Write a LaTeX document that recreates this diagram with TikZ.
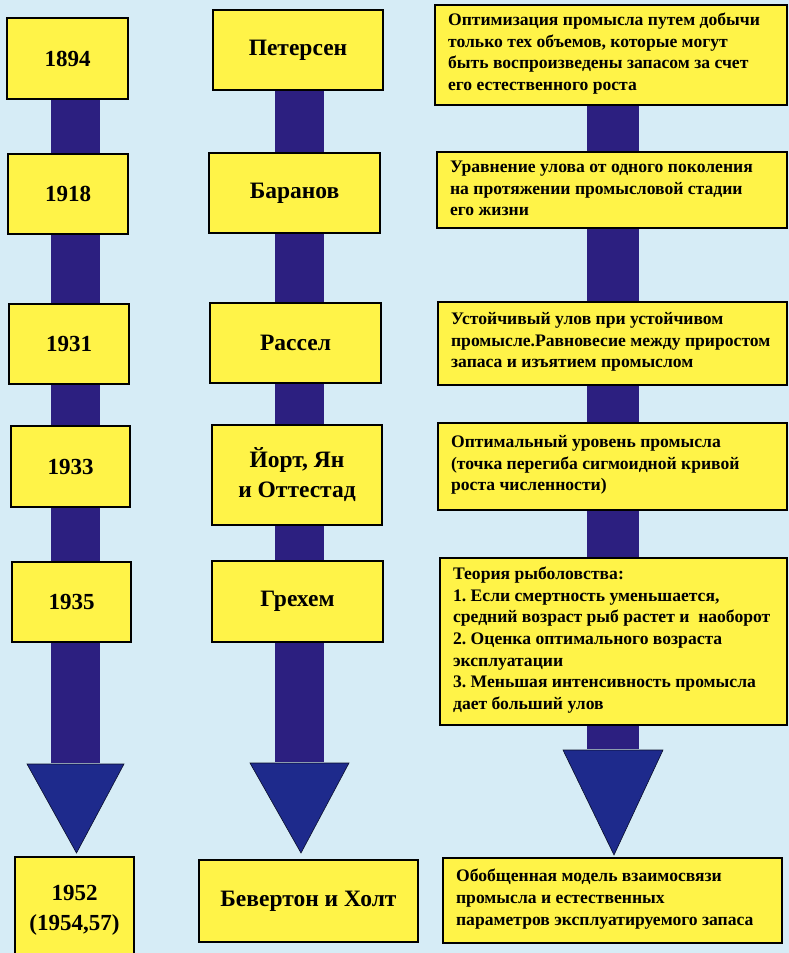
\documentclass[tikz,border=0pt]{standalone}
\usepackage{fontspec}
\setmainfont{Liberation Serif}
\usetikzlibrary{backgrounds,calc}
\definecolor{bgblue}{RGB}{214,236,246}
\definecolor{boxyellow}{RGB}{255,243,72}
\definecolor{shaftblue}{RGB}{44,31,128}
\definecolor{headblue}{RGB}{30,42,140}
\frenchspacing
\tikzset{
  ybox/.style={draw=black, line width=2.2pt, fill=boxyellow, inner sep=0pt, align=center},
  bigtxt/.style={font=\fontsize{23}{32}\selectfont\bfseries},
  nametxt/.style={font=\fontsize{23.5}{30}\selectfont\bfseries},
  smalltxt/.style={font=\fontsize{17.6}{21.7}\selectfont\bfseries, align=left, inner sep=0pt, anchor=west},
  shaft/.style={draw=shaftblue, line width=49pt, line cap=butt},
  headtri/.style={fill=headblue, draw=black!70!headblue, line width=0.6pt}
}
% \mybox{name}{x1}{y1}{x2}{y2}{style}{text}
\newcommand{\mybox}[7]{%
  \node[ybox, #6, minimum width={(#4-#2)*1pt}, minimum height={(#5-#3)*1pt}]
    (#1) at ({(#2+#4)/2},{(#3+#5)/2}) {#7};}
% \mywidebox{name}{x1}{y1}{x2}{y2}{text}
\newcommand{\mywidebox}[6]{%
  \node[ybox, minimum width={(#4-#2)*1pt}, minimum height={(#5-#3)*1pt}]
    (#1) at ({(#2+#4)/2},{(#3+#5)/2}) {};
  \node[smalltxt] (#1t) at ([xshift=14pt,yshift=1.5pt]#1.west) {#6};}
\begin{document}
\begin{tikzpicture}[x=1pt,y=-1pt]
\useasboundingbox (0,0) rectangle (789,953);
\clip (0,0) rectangle (789,953);
% column 1
\mybox{a1}{7}{18}{128}{99}{bigtxt}{1894}
\mybox{a2}{8}{154}{128}{234}{bigtxt}{1918}
\mybox{a3}{9}{304}{129}{384}{bigtxt}{1931}
\mybox{a4}{11}{426}{130}{507}{bigtxt}{1933}
\mybox{a5}{12}{562}{131}{642}{bigtxt}{1935}
\mybox{a6}{15}{857}{134}{962}{bigtxt}{\raisebox{6pt}{\begin{tabular}{@{}c@{}}1952\\[-2pt](1954,57)\end{tabular}}}
% column 2
\mybox{b1}{213}{10}{383}{90}{nametxt}{Петерсен}
\mybox{b2}{209}{153}{380}{233}{nametxt}{Баранов}
\mybox{b3}{210}{303}{381}{383}{nametxt}{Рассел}
\mybox{b4}{212}{425}{382}{525}{nametxt}{Йорт, Ян\\и Оттестад}
\mybox{b5}{212}{561}{383}{642}{nametxt}{Грехем}
\mybox{b6}{199}{860}{418}{942}{nametxt}{Бевертон и Холт}
% column 3
\mywidebox{c1}{435}{5}{787}{105}{Оптимизация промысла путем добычи\\только тех объемов, которые могут\\быть воспроизведены запасом за счет\\его естественного роста}
\mywidebox{c2}{437}{152}{787}{228}{Уравнение улова от одного поколения\\на протяжении промысловой стадии\\его жизни}
\mywidebox{c3}{438}{302}{787}{385}{Устойчивый улов при устойчивом\\промысле.Равновесие между приростом\\запаса и изъятием промыслом}
\mywidebox{c4}{438}{423}{787}{510}{Оптимальный уровень промысла\\(точка перегиба сигмоидной кривой\\роста численности)}
\mywidebox{c5}{440}{558}{787}{725}{Теория рыболовства:\\1. Если смертность уменьшается,\\средний возраст рыб растет и\ \ наоборот\\2. Оценка оптимального возраста\\эксплуатации\\3. Меньшая интенсивность промысла\\дает больший улов}
\mywidebox{c6}{443}{858}{782}{943}{Обобщенная модель взаимосвязи\\промысла и естественных\\параметров эксплуатируемого запаса}
% axes and arrow heads
\coordinate (ax1) at (75.5,0);
\coordinate (ax2) at (299.5,0);
\coordinate (ax3) at (613,0);
\coordinate (h1) at (75.5,764);
\coordinate (h2) at (299.5,763);
\coordinate (h3) at (613,750);
\coordinate (t1) at (76.5,853);
\coordinate (t2) at (301,853);
\coordinate (t3) at (614,855);
\begin{scope}[on background layer]
\fill[bgblue] (0,0) rectangle (789,953);
% column 1 shafts
\draw[shaft] (a1.south -| ax1) -- (a2.north -| ax1);
\draw[shaft] (a2.south -| ax1) -- (a3.north -| ax1);
\draw[shaft] (a3.south -| ax1) -- (a4.north -| ax1);
\draw[shaft] (a4.south -| ax1) -- (a5.north -| ax1);
\draw[shaft] (a5.south -| ax1) -- ([yshift=1pt]h1);
\draw[headtri] ($(h1)+(-48.5,0)$) -- ($(h1)+(48.5,0)$) -- (t1) -- cycle;
% column 2 shafts
\draw[shaft] (b1.south -| ax2) -- (b2.north -| ax2);
\draw[shaft] (b2.south -| ax2) -- (b3.north -| ax2);
\draw[shaft] (b3.south -| ax2) -- (b4.north -| ax2);
\draw[shaft] (b4.south -| ax2) -- (b5.north -| ax2);
\draw[shaft] (b5.south -| ax2) -- ([yshift=1pt]h2);
\draw[headtri] ($(h2)+(-49.5,0)$) -- ($(h2)+(49.5,0)$) -- (t2) -- cycle;
% column 3 shafts
\draw[shaft, line width=52pt] (c1.south -| ax3) -- (c2.north -| ax3);
\draw[shaft, line width=52pt] (c2.south -| ax3) -- (c3.north -| ax3);
\draw[shaft, line width=52pt] (c3.south -| ax3) -- (c4.north -| ax3);
\draw[shaft, line width=52pt] (c4.south -| ax3) -- (c5.north -| ax3);
\draw[shaft, line width=52pt] (c5.south -| ax3) -- ([yshift=1pt]h3);
\draw[headtri] ($(h3)+(-50,0)$) -- ($(h3)+(50,0)$) -- (t3) -- cycle;
\end{scope}
\end{tikzpicture}
\end{document}
